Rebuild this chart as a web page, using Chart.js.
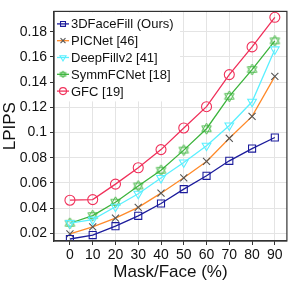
<!DOCTYPE html>
<html>
<head>
<meta charset="utf-8">
<script src="https://cdn.jsdelivr.net/npm/chart.js@4"></script>
<style>
  html, body { margin: 0; padding: 0; background: #fff; }
  #wrap { width: 293px; height: 283px; }
</style>
</head>
<body>
<div id="wrap"><canvas id="myChart" width="293" height="283"></canvas></div>
<script>
const masks = [0, 10, 20, 30, 40, 50, 60, 70, 80, 90];
const faceFill = [0.0154, 0.0185, 0.0256, 0.0338, 0.0436, 0.055, 0.0656, 0.0775, 0.0872, 0.096];
const picNet = [0.0195, 0.025, 0.032, 0.0405, 0.0518, 0.064, 0.077, 0.0954, 0.1128, 0.1446];
const deepFill = [0.028, 0.0308, 0.041, 0.0513, 0.0638, 0.0762, 0.0895, 0.1056, 0.1244, 0.166];
const symmFC = [0.0279, 0.034, 0.0446, 0.0575, 0.070, 0.086, 0.103, 0.1287, 0.150, 0.1728];
const gfc = [0.0462, 0.0467, 0.059, 0.072, 0.0864, 0.1036, 0.1205, 0.146, 0.168, 0.1915];
const yTicks = [0.02, 0.04, 0.06, 0.08, 0.1, 0.12, 0.14, 0.16, 0.18];
const names = ['3DFaceFill (Ours)', 'PICNet [46]', 'DeepFillv2 [41]', 'SymmFCNet [18]', 'GFC [19]'];

// hexagram marker (star of david)
function makeHex(size, color, lw) {
    const c = document.createElement('canvas');
    c.width = size; c.height = size;
    const g = c.getContext('2d');
    const r = size / 2 - 1, cx = size / 2, cy = size / 2;
    g.strokeStyle = color; g.lineWidth = lw;
    for (let k = 0; k < 2; k++) {
        g.beginPath();
        for (let i = 0; i < 3; i++) {
            const a = (k ? Math.PI / 2 : -Math.PI / 2) + i * 2 * Math.PI / 3;
            const px = cx + r * Math.cos(a), py = cy + r * Math.sin(a);
            if (i === 0) g.moveTo(px, py); else g.lineTo(px, py);
        }
        g.closePath();
        g.stroke();
    }
    return c;
}
const hexBig = makeHex(13, '#3cb43c', 0.9);
const hexSmall = makeHex(9, '#3cb43c', 0.9);

function mk(label, values, color, style, ptColor, rot) {
    return {
        label: label,
        data: values,
        borderColor: color,
        backgroundColor: 'rgba(0,0,0,0)',
        pointBorderColor: ptColor || color,
        pointBackgroundColor: 'rgba(0,0,0,0)',
        pointStyle: style,
        pointRotation: rot || 0,
        pointRadius: 5,
        pointBorderWidth: 1.1,
        borderWidth: 1.3,
        tension: 0
    };
}

const data = {
    labels: masks,
    datasets: [
        mk(names[0], faceFill, '#1c1c9c', 'rect'),
        mk(names[1], picNet, '#ff8a2a', 'crossRot', '#555555'),
        mk(names[2], deepFill, '#5af0ff', 'triangle', null, 180),
        mk(names[3], symmFC, '#3cb43c', hexBig),
        mk(names[4], gfc, '#f0305a', 'circle')
    ]
};

const legendBox = {
    id: 'legendBox',
    afterDraw(chart) {
        const ctx = chart.ctx;
        const a = chart.chartArea;
        ctx.save();
        ctx.fillStyle = '#fff';
        ctx.fillRect(a.left + 1, a.top + 1, 125, 89);
        ctx.font = '13px "Liberation Sans", Arial, sans-serif';
        ctx.textBaseline = 'middle';
        chart.data.datasets.forEach((ds, i) => {
            const y = a.top + 12.5 + i * 16.8;
            const x0 = a.left + 3;
            ctx.strokeStyle = ds.borderColor;
            ctx.lineWidth = 1.3;
            ctx.beginPath();
            ctx.moveTo(x0, y); ctx.lineTo(x0 + 12, y);
            ctx.stroke();
            ctx.strokeStyle = ds.pointBorderColor;
            ctx.fillStyle = 'rgba(0,0,0,0)';
            ctx.lineWidth = 1.1;
            const st = ds.pointStyle === hexBig ? hexSmall : ds.pointStyle;
            Chart.helpers.drawPoint(ctx, {pointStyle: st, rotation: ds.pointRotation, radius: 3.5, borderWidth: 1.1}, x0 + 6, y);
            ctx.fillStyle = '#111';
            ctx.fillText(ds.label, a.left + 17, y + 1);
        });
        ctx.strokeStyle = '#333';
        ctx.lineWidth = 1.2;
        ctx.strokeRect(a.left, a.top, a.right - a.left, a.bottom - a.top);
        ctx.restore();
    }
};

const ctx = document.getElementById('myChart').getContext('2d');
const myChart = new Chart(ctx, {
    type: 'line',
    data: data,
    plugins: [legendBox],
    options: {
        responsive: false,
        animation: false,
        layout: { padding: { left: 0, right: 4, top: 2, bottom: 0 } },
        plugins: { legend: { display: false }, tooltip: { enabled: false } },
        scales: {
            x: {
                type: 'linear',
                min: -7,
                max: 95.3,
                afterBuildTicks: (axis) => { axis.ticks = masks.map(v => ({ value: v })); },
                afterFit: (axis) => { axis.height = 42; },
                grid: { color: '#e4e4e4', drawTicks: true, tickLength: 4, tickColor: '#333' },
                border: { color: '#333', width: 1.2 },
                ticks: { color: '#111', font: { size: 14, family: '"Liberation Sans", Arial' }, padding: 2, maxRotation: 0 },
                title: { display: true, text: 'Mask/Face (%)', color: '#111', font: { size: 17, family: '"Liberation Sans", Arial' }, padding: { top: 0, bottom: 0 } }
            },
            y: {
                min: 0.0138,
                max: 0.1962,
                afterBuildTicks: (axis) => { axis.ticks = yTicks.map(v => ({ value: v })); },
                afterFit: (axis) => { axis.width = 54; },
                grid: { color: '#e4e4e4', tickLength: 4, tickColor: '#333' },
                border: { color: '#333', width: 1.2 },
                ticks: { color: '#111', font: { size: 14, family: '"Liberation Sans", Arial' }, padding: 3,
                         callback: (v) => String(Math.round(v * 100) / 100) },
                title: { display: true, text: 'LPIPS', color: '#111', font: { size: 17, family: '"Liberation Sans", Arial' }, padding: { top: 0, bottom: 1 } }
            }
        }
    }
});
</script>
</body>
</html>
